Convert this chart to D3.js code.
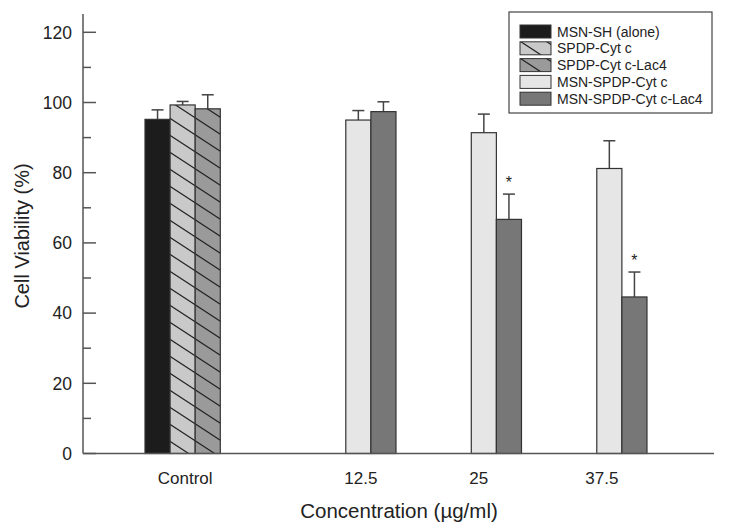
<!DOCTYPE html>
<html>
<head>
<meta charset="utf-8">
<script src="https://cdn.jsdelivr.net/npm/d3@7"></script>
<style>
  html, body { margin: 0; padding: 0; background: #fff; }
  svg { display: block; }
  text { font-family: "Liberation Sans", Arial, sans-serif; }
</style>
</head>
<body>
<svg id="chart" width="729" height="529"></svg>
<script>
// ---- Data ----
const categories = ["Control", "12.5", "25", "37.5"];
const tickSlots = [1.6, 8.6, 13.3, 18.2];      // label positions in bar-slot units
const groupStartSlot = [0, 8, 13, 18];          // first bar slot of each group
const seriesNames = ["MSN-SH (alone)", "SPDP-Cyt c", "SPDP-Cyt c-Lac4", "MSN-SPDP-Cyt c", "MSN-SPDP-Cyt c-Lac4"];
const msnSH        = [95.2, null, null, null];
const msnSHErr     = [2.7, null, null, null];
const spdpCyt      = [99.3, null, null, null];
const spdpCytErr   = [1.0, null, null, null];
const spdpLac4     = [98.2, null, null, null];
const spdpLac4Err  = [4.0, null, null, null];
const msnSpdpCyt      = [null, 95.0, 91.4, 81.2];
const msnSpdpCytErr   = [null, 2.7, 5.3, 7.9];
const msnSpdpLac4     = [null, 97.4, 66.7, 44.6];
const msnSpdpLac4Err  = [null, 2.8, 7.2, 7.1];
const significant     = [[], [], [], [], [false, false, true, true]];
const yTicks = [0, 20, 40, 60, 80, 100, 120];
const yMinorTicks = [10, 30, 50, 70, 90, 110];

const seriesValues = [msnSH, spdpCyt, spdpLac4, msnSpdpCyt, msnSpdpLac4];
const seriesErrs = [msnSHErr, spdpCytErr, spdpLac4Err, msnSpdpCytErr, msnSpdpLac4Err];
const fills = ["#1c1c1c", "#c9c9c9", "#9a9a9a", "#e6e6e6", "#777777"];
const hatched = [false, true, true, false, false];

// ---- Layout ----
const svg = d3.select("#chart");
const axisX = 83, baseY = 453.5, topY = 14;
const x = d3.scaleLinear().domain([-2.47, 22.67]).range([axisX, 714]);
const y = d3.scaleLinear().domain([0, 120]).range([baseY, 32.3]);
const slotW = x(1) - x(0);

// hatch patterns
const defs = svg.append("defs");
hatched.forEach((h, i) => {
  if (!h) return;
  const W = 26, H = 17;
  const p = defs.append("pattern").attr("id", "hatch" + i)
    .attr("patternUnits", "userSpaceOnUse").attr("width", W).attr("height", H)
    .attr("x", x(0)).attr("y", 0);
  p.append("rect").attr("width", W).attr("height", H).attr("fill", fills[i]);
  [-H, 0, H].forEach(c => {
    p.append("line").attr("x1", -2).attr("y1", c - 2 * H / W)
      .attr("x2", W + 2).attr("y2", c + H + 2 * H / W)
      .attr("stroke", "#222").attr("stroke-width", 1.2);
  });
});

// build bar records
const bars = [];
categories.forEach((cat, ci) => {
  let k = 0;
  seriesValues.forEach((vals, si) => {
    if (vals[ci] == null) return;
    bars.push({ cat: ci, series: si, slot: groupStartSlot[ci] + k, v: vals[ci], e: seriesErrs[si][ci],
      sig: significant[si] && significant[si][ci] });
    k++;
  });
});

// error bars (upward only)
const eb = svg.append("g").attr("stroke", "#444").attr("stroke-width", 1.5);
bars.forEach(b => {
  const cx = x(b.slot + 0.5);
  eb.append("line").attr("x1", cx).attr("x2", cx).attr("y1", y(b.v)).attr("y2", y(b.v + b.e));
  eb.append("line").attr("x1", cx - 6).attr("x2", cx + 6).attr("y1", y(b.v + b.e)).attr("y2", y(b.v + b.e));
});

// bars
svg.append("g").selectAll("rect").data(bars).join("rect")
  .attr("x", d => x(d.slot))
  .attr("width", slotW)
  .attr("y", d => y(d.v))
  .attr("height", d => baseY - y(d.v))
  .attr("fill", d => hatched[d.series] ? `url(#hatch${d.series})` : fills[d.series])
  .attr("stroke", "#333").attr("stroke-width", 1.2);

// asterisks
svg.append("g").selectAll("text").data(bars.filter(b => b.sig)).join("text")
  .attr("x", d => x(d.slot + 0.5)).attr("y", d => y(d.v + d.e) - 6)
  .attr("text-anchor", "middle").attr("font-size", 16).attr("fill", "#222")
  .text("*");

// y axis
const yAxisG = svg.append("g").attr("stroke", "#555").attr("stroke-width", 1.5);
yAxisG.append("line").attr("x1", axisX).attr("x2", axisX).attr("y1", topY).attr("y2", baseY);
yTicks.forEach(t => yAxisG.append("line").attr("x1", axisX).attr("x2", axisX + 13).attr("y1", y(t)).attr("y2", y(t)));
yMinorTicks.forEach(t => yAxisG.append("line").attr("x1", axisX).attr("x2", axisX + 8).attr("y1", y(t)).attr("y2", y(t)));
svg.append("g").selectAll("text").data(yTicks).join("text")
  .attr("x", 72).attr("y", d => y(d)).attr("dy", "0.36em")
  .attr("text-anchor", "end").attr("font-size", 17.5).attr("fill", "#222")
  .text(d => d);

// x axis
svg.append("line").attr("x1", axisX).attr("x2", x(22.67)).attr("y1", baseY).attr("y2", baseY)
  .attr("stroke", "#555").attr("stroke-width", 1.5);
svg.append("g").selectAll("text").data(categories).join("text")
  .attr("x", (d, i) => x(tickSlots[i])).attr("y", 484)
  .attr("text-anchor", "middle").attr("font-size", 17).attr("fill", "#222")
  .text(d => d);

// axis titles
svg.append("text").attr("x", 399).attr("y", 518).attr("text-anchor", "middle")
  .attr("font-size", 20.5).attr("fill", "#222").text("Concentration (µg/ml)");
svg.append("text").attr("transform", "translate(29,236) rotate(-90)").attr("text-anchor", "middle")
  .attr("font-size", 20).attr("fill", "#222").text("Cell Viability (%)");

// legend
const lg = svg.append("g");
lg.append("rect").attr("x", 509).attr("y", 12).attr("width", 203).attr("height", 101)
  .attr("fill", "#fff").attr("stroke", "#444").attr("stroke-width", 1.2);
seriesNames.forEach((name, i) => {
  const ry = 25 + i * 16.8;
  lg.append("rect").attr("x", 520).attr("y", ry).attr("width", 31).attr("height", 13)
    .attr("fill", hatched[i] ? `url(#hatch${i})` : fills[i]).attr("stroke", "#333").attr("stroke-width", 1);
  lg.append("text").attr("x", 557).attr("y", ry + 6.5).attr("dy", "0.36em")
    .attr("font-size", 14).attr("fill", "#222").text(name);
});
</script>
</body>
</html>
